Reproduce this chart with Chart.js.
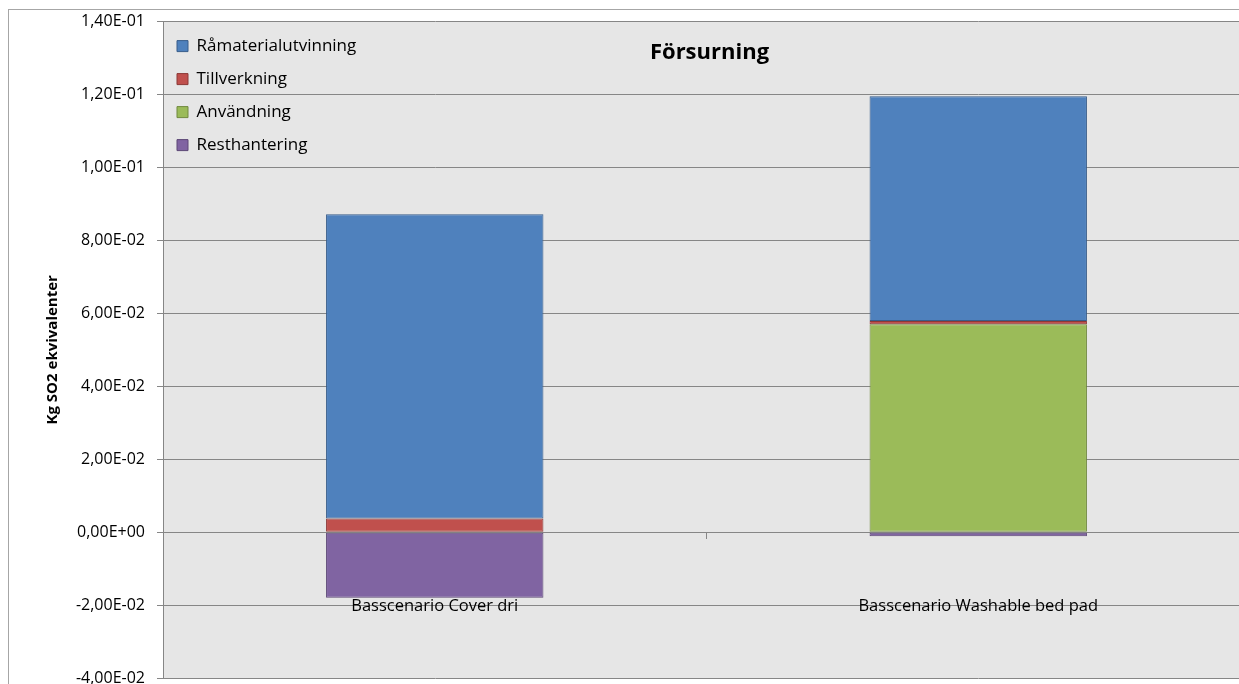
<!DOCTYPE html>
<html>
<head>
<meta charset="utf-8">
<script src="https://cdn.jsdelivr.net/npm/chart.js@4.4.1/dist/chart.umd.min.js"></script>
<style>
  html, body { margin: 0; padding: 0; background: #fff; overflow: hidden; }
  #frame { position: absolute; left: 8px; top: 9px; width: 1400px; height: 800px; border: 1px solid #a6a6a6; background: #fff; }
  #myChart { position: absolute; left: 0; top: 0; }
</style>
</head>
<body>
<div id="frame"></div>
<canvas id="myChart" width="1262" height="700"></canvas>
<script>
var categories = ["Basscenario Cover dri", "Basscenario Washable bed pad"];
var ramaterial = [0.0834, 0.0616];
var tillverkning = [0.00375, 0.0009];
var anvandning = [0, 0.0570];
var resthantering = [-0.0180, -0.0011];
var yTicks = [-0.04, -0.02, 0, 0.02, 0.04, 0.06, 0.08, 0.10, 0.12, 0.14];

var font = "'Open Sans', 'DejaVu Sans', sans-serif";

function sci(v) {
  if (Math.abs(v) < 1e-12) v = 0;
  var s = v.toExponential(2).split("e");
  var exp = parseInt(s[1], 10);
  return s[0].replace(".", ",") + "E" + (exp < 0 ? "-" : "+") + String(Math.abs(exp)).padStart(2, "0");
}

// grey plot area, legend nudge and the title inside the plot
var plotBits = {
  id: "plotBits",
  afterLayout: function(chart) {
    chart.legend.left = chart.chartArea.left - 2;
    chart.legend.top = chart.chartArea.top;
  },
  beforeDraw: function(chart) {
    var a = chart.chartArea, ctx = chart.ctx;
    ctx.save();
    ctx.fillStyle = "#e6e6e6";
    ctx.fillRect(a.left, a.top, a.right - a.left, a.bottom - a.top);
    ctx.restore();
  },
  afterDraw: function(chart) {
    var a = chart.chartArea, ctx = chart.ctx;
    ctx.save();
    ctx.font = "bold 22px " + font;
    ctx.fillStyle = "#000";
    ctx.textAlign = "center";
    ctx.textBaseline = "middle";
    ctx.fillText("Försurning", (a.left + a.right) / 2 + 3, a.top + 31);
    ctx.restore();
  }
};

var ctx = document.getElementById("myChart").getContext("2d");
var myChart = new Chart(ctx, {
  type: "bar",
  data: {
    labels: categories,
    datasets: [{
        label: "Resthantering",
        data: resthantering,
        backgroundColor: "#8064a2",
        borderColor: "#5c4776",
        borderWidth: 1,
        borderSkipped: false
      },
      {
        label: "Användning",
        data: anvandning,
        backgroundColor: "#9bbb59",
        borderColor: "#71893f",
        borderWidth: 1,
        borderSkipped: false
      },
      {
        label: "Tillverkning",
        data: tillverkning,
        backgroundColor: "#c0504d",
        borderColor: "#8c3836",
        borderWidth: 1,
        borderSkipped: false
      },
      {
        label: "Råmaterialutvinning",
        data: ramaterial,
        backgroundColor: "#4f81bd",
        borderColor: "#385d8a",
        borderWidth: 1,
        borderSkipped: false
      }]
  },
  options: {
    responsive: false,
    animation: false,
    categoryPercentage: 1,
    barPercentage: 0.4,
    layout: { padding: { left: 40, top: 21, right: 12, bottom: 22 } },
    plugins: {
      title: { display: false },
      tooltip: { enabled: false },
      legend: {
        position: "chartArea",
        align: "start",
        reverse: true,
        labels: {
          boxWidth: 11,
          boxHeight: 11,
          padding: 16,
          color: "#000",
          font: { family: font, size: 17 }
        }
      }
    },
    scales: {
      x: {
        stacked: true,
        position: { y: 0 },
        border: { display: true, color: "#868686" },
        grid: { offset: true, drawOnChartArea: false, drawTicks: true, tickLength: 6, color: "#868686" },
        ticks: { color: "#000", padding: 58, font: { family: font, size: 16.5 } }
      },
      y: {
        stacked: true,
        min: -0.04,
        max: 0.14,
        afterFit: function(scale) { scale.width = 123; },
        afterBuildTicks: function(scale) {
          scale.ticks = yTicks.map(function(v) { return { value: v }; });
        },
        border: { display: true, color: "#868686" },
        grid: { color: "#868686", tickLength: 6 },
        ticks: {
          color: "#000",
          padding: 12,
          font: { family: font, size: 16 },
          callback: function(v) { return sci(v); }
        },
        title: {
          display: true,
          text: "Kg SO2 ekvivalenter",
          color: "#000",
          font: { family: font, size: 15, weight: "bold" }
        }
      }
    }
  },
  plugins: [plotBits]
});
</script>
</body>
</html>
